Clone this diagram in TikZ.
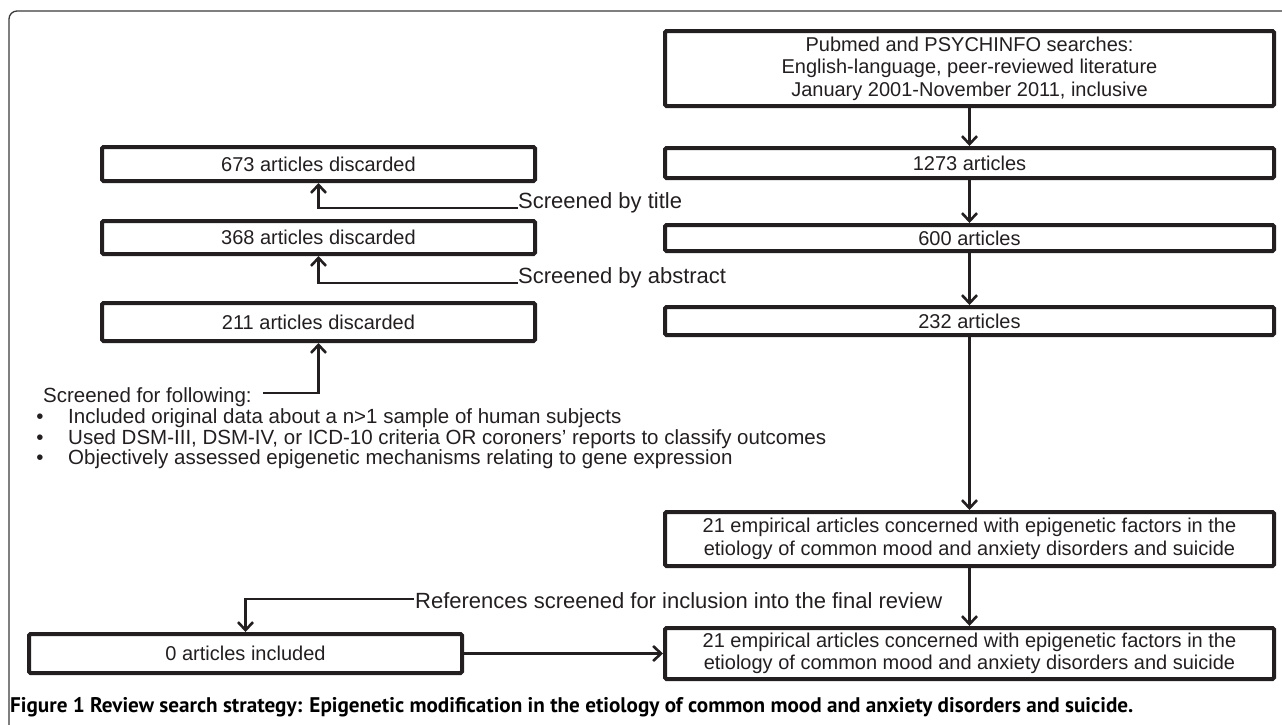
\documentclass[tikz,border=0pt]{standalone}
\usepackage{fontspec}
\setmainfont{Liberation Sans}
\newfontfamily\capfont{PT Sans}
\usetikzlibrary{arrows.meta}
\definecolor{ink}{HTML}{231F20}
\definecolor{framec}{HTML}{3A3A3A}
\begin{document}
\begin{tikzpicture}[x=1pt,y=-1pt,
  box/.style={draw=ink, line width=4pt, rounded corners=1.5pt, inner sep=0pt, outer sep=2pt,
    text=ink, font=\fontsize{20}{22.5}\selectfont, align=center},
  lab/.style={text=ink, font=\fontsize{22}{26}\selectfont, inner sep=0pt, anchor=base west},
  small/.style={text=ink, font=\fontsize{20.5}{24}\selectfont, inner sep=0pt, anchor=base west},
  arr/.style={draw=ink, line width=2.6pt, -{Straight Barb[length=8pt,width=15pt]}},
  plain/.style={draw=ink, line width=2.6pt}]
\useasboundingbox (0,0) rectangle (1282,724);
\begin{scope}
  \clip (0,0) rectangle (1282,724);
  \draw[framec, line width=1.3pt, rounded corners=8pt] (9,740) -- (9,11) -- (1300,11);
\end{scope}

% right column
\node[box, minimum width=609pt, minimum height=75pt] (top) at (969.5,68.5)
  {Pubmed and PSYCHINFO searches:\\English-language, peer-reviewed literature\\January 2001-November 2011, inclusive};
\node[box, minimum width=609pt, minimum height=30pt] (n1273) at (969.5,163) {1273 articles};
\node[box, minimum width=609pt, minimum height=26pt] (n600) at (969.5,238) {600 articles};
\node[box, minimum width=609pt, minimum height=28pt] (n232) at (969.5,321) {232 articles};
\node[box, minimum width=609pt, minimum height=54pt] (emp1) at (969.5,539)
  {21 empirical articles concerned with epigenetic factors in the\\etiology of common mood and anxiety disorders and suicide};
\node[box, minimum width=609pt, minimum height=51pt] (emp2) at (969.5,653.5)
  {21 empirical articles concerned with epigenetic factors in the\\etiology of common mood and anxiety disorders and suicide};

% left column
\node[box, minimum width=433pt, minimum height=34pt] (d673) at (318.5,164) {673 articles discarded};
\node[box, minimum width=433pt, minimum height=33pt] (d368) at (318.5,237.5) {368 articles discarded};
\node[box, minimum width=433pt, minimum height=38pt] (d211) at (318.5,322) {211 articles discarded};
\node[box, minimum width=433pt, minimum height=39pt] (zero) at (245.5,653.5) {0 articles included};

% vertical flow
\draw[arr] (top) -- (n1273);
\draw[arr] (n1273) -- (n600);
\draw[arr] (n600) -- (n232);
\draw[arr] (n232) -- (emp1);
\draw[arr] (emp1) -- (emp2);

% labels
\node[lab] (stitle) at (518,208) {Screened by title};
\node[lab] (sabs) at (518,283) {Screened by abstract};
\draw[arr] (stitle.base west) -| (d673.south);
\draw[arr] (sabs.base west) -| (d368.south);

\node[small] (sfol) at (43,402) {Screened for following:};
\coordinate (sfl) at (263,393);
\draw[arr] (sfl) -| (d211.south);

\node[small, anchor=base] (bu1) at (40,423) {•};
\node[small] (it1) at (68,423) {Included original data about a n>1 sample of human subjects};
\node[small, anchor=base] (bu2) at (40,444) {•};
\node[small] (it2) at (68,444) {Used DSM-III, DSM-IV, or ICD-10 criteria OR coroners’ reports to classify outcomes};
\node[small, anchor=base] (bu3) at (40,464) {•};
\node[small] (it3) at (68,464) {Objectively assessed epigenetic mechanisms relating to gene expression};

\node[lab] (refs) at (415,608) {References screened for inclusion into the final review};
\coordinate (rl) at (414,599);
\draw[arr] (rl) -| (zero.north);
\draw[arr] (zero.east) -- (zero.east -| emp2.west);

% caption
\node[anchor=base west, inner sep=0pt, text=black] (cap) at (10,712)
  {\resizebox{1123pt}{!}{\capfont\bfseries Figure 1 Review search strategy: Epigenetic modification in the etiology of common mood and anxiety disorders and suicide.}};
\end{tikzpicture}
\end{document}
